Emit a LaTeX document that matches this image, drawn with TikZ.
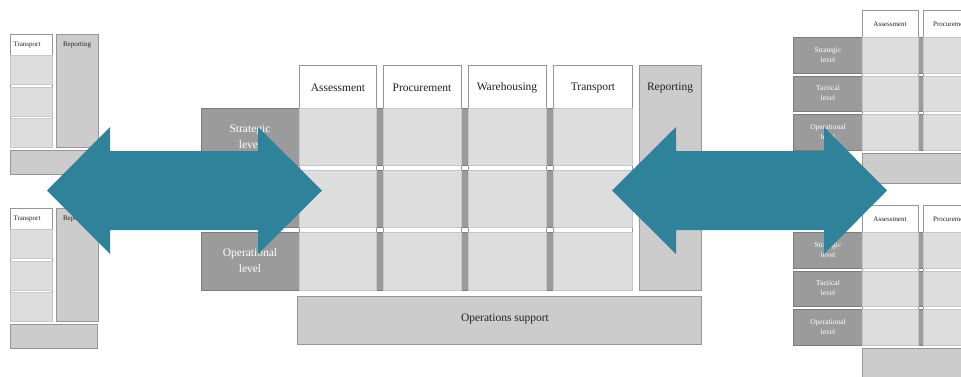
\documentclass[tikz,border=0pt]{standalone}
\usepackage{fontspec}
\setmainfont{Liberation Serif}
\usepackage{tikz}

\definecolor{arrowteal}{RGB}{46,130,153}
\definecolor{cellgray}{RGB}{221,221,221}
\definecolor{bandgray}{RGB}{155,155,155}
\definecolor{sidegray}{RGB}{204,204,204}
\definecolor{linegray}{RGB}{150,150,150}
\definecolor{textdark}{RGB}{34,34,34}

\begin{document}
\begin{tikzpicture}[x=1pt, y=-1pt,
    band/.style={fill=bandgray, draw=bandgray!80!black, line width=0.6pt},
    column/.style={fill=white, draw=linegray, line width=0.6pt},
    cell/.style={fill=cellgray, draw=cellgray!90!black, line width=0.4pt},
    side/.style={fill=sidegray, draw=linegray, line width=0.6pt},
    head/.style={text=textdark, font=\fontsize{11.5}{14}\selectfont},
    levtext/.style={text=white, align=center, font=\fontsize{11.5}{16}\selectfont},
    minihead/.style={text=textdark, font=\fontsize{7}{8}\selectfont},
    minilev/.style={text=white, align=center, font=\fontsize{7.5}{10}\selectfont},
    bigarrow/.style={fill=arrowteal}]

    \useasboundingbox (0,0) rectangle (961,376);
    \clip (0,0) rectangle (961,376);

    % ---- Central matrix ----
    % Level bands (behind the columns)
    \draw[band] (201,108) rectangle (632,165);
    \draw[band] (201,170) rectangle (632,227);
    \draw[band] (201,232) rectangle (632,290);

    \node[levtext] (strat) at (250,137) {Strategic\\level};
    \node[levtext] (tact)  at (250,198) {Tactical\\level};
    \node[levtext] (oper)  at (250,261) {Operational\\level};

    % Function columns with their cells
    \foreach \xa/\xb in {299/376, 383/461, 468/546, 553/632} {
        \draw[column] (\xa,65) rectangle (\xb,290);
        \draw[cell] (\xa,108) rectangle (\xb,165);
        \draw[cell] (\xa,170) rectangle (\xb,227);
        \draw[cell] (\xa,232) rectangle (\xb,290);
    }

    \node[head] (assess) at (338,88) {Assessment};
    \node[head] (procure) at (422,88) {Procurement};
    \node[head] (wareh) at (507,88) {Warehousing};
    \node[head] (transp) at (593,88) {Transport};

    % Reporting column
    \draw[side] (639,65) rectangle (701,290);
    \node[head] (report) at (670,88) {Reporting};

    % Operations support
    \draw[side] (297,296) rectangle (701,344);
    \node[head] (opsup) at (505,319) {Operations support};

    % ---- Left copies (cut off) ----
    \foreach \i/\oy in {a/0, b/174} {
        \draw[column] (10,{34+\oy}) rectangle (52,{147+\oy});
        \draw[cell] (10,{55+\oy}) rectangle (52,{84+\oy});
        \draw[cell] (10,{87+\oy}) rectangle (52,{116+\oy});
        \draw[cell] (10,{118+\oy}) rectangle (52,{147+\oy});
        \draw[side] (56,{34+\oy}) rectangle (98,{147+\oy});
        \draw[side] (10,{150+\oy}) rectangle (97,{174+\oy});
        \node[minihead] (ltransp-\i) at (27,{45+\oy}) {Transport};
        \node[minihead] (lreport-\i) at (77,{45+\oy}) {Reporting};
    }

    % ---- Right copies (cut off) ----
    \foreach \i/\oy in {a/0, b/195} {
        \draw[band] (793,{37+\oy}) rectangle (990,{73+\oy});
        \draw[band] (793,{76+\oy}) rectangle (990,{111+\oy});
        \draw[band] (793,{114+\oy}) rectangle (990,{150+\oy});
        \foreach \xa/\xb in {862/918, 923/985} {
            \draw[column] (\xa,{10+\oy}) rectangle (\xb,{150+\oy});
            \draw[cell] (\xa,{37+\oy}) rectangle (\xb,{73+\oy});
            \draw[cell] (\xa,{76+\oy}) rectangle (\xb,{111+\oy});
            \draw[cell] (\xa,{114+\oy}) rectangle (\xb,{150+\oy});
        }
        \draw[side] (862,{153+\oy}) rectangle (990,{183+\oy});
        \node[minihead] (rassess-\i) at (890,{24+\oy}) {Assessment};
        \node[minihead] (rprocure-\i) at (951,{24+\oy}) {Procurement};
        \node[minilev] (rstrat-\i) at (828,{55+\oy}) {Strategic\\level};
        \node[minilev] (rtact-\i) at (828,{93+\oy}) {Tactical\\level};
        \node[minilev] (roper-\i) at (828,{132+\oy}) {Operational\\level};
    }

    % ---- Double arrows on top ----
    \fill[bigarrow] (47,190.5) -- (110,127) -- (110,151) -- (258,151) -- (258,127)
        -- (322,190.5) -- (258,254) -- (258,230) -- (110,230) -- (110,254) -- cycle;
    \fill[bigarrow] (612,190.5) -- (676,127) -- (676,151) -- (824,151) -- (824,127)
        -- (887,190.5) -- (824,254) -- (824,230) -- (676,230) -- (676,254) -- cycle;

\end{tikzpicture}
\end{document}
